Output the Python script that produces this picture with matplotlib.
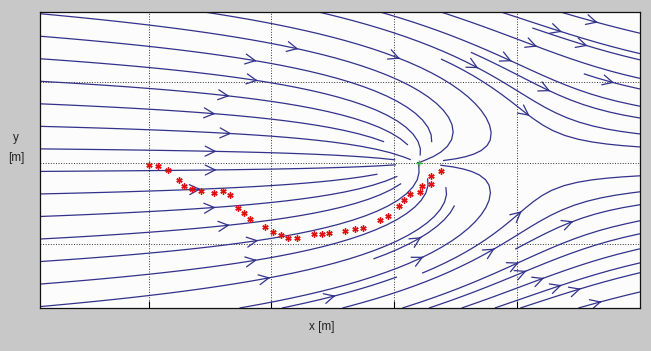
import numpy as np
import matplotlib
matplotlib.use("Agg")
import matplotlib.pyplot as plt

# flow model: uniform stream plus a point sink on the x axis,
# with a mild contraction of the stream towards the axis
U_inf = 1.0          # free stream speed
sink_x = 0.2         # sink location [m]
stag_dist = 1.0      # sink strength expressed as stagnation distance
contraction = 0.022  # convergence rate towards the axis
x_scale = 1.225      # metres per axis unit along x
y_scale = 1.246      # metres per axis unit along y

# measured particle track (red stars)
track_x = [-2.00, -1.92, -1.84, -1.75, -1.71, -1.65, -1.57, -1.47, -1.39, -1.34,
           -1.27, -1.22, -1.17, -1.05, -0.99, -0.92, -0.86, -0.79, -0.65, -0.59,
           -0.53, -0.40, -0.32, -0.25, -0.11, -0.05, 0.04, 0.08, 0.13, 0.21,
           0.23, 0.30, 0.30, 0.38]
track_y = [-0.02, -0.04, -0.09, -0.21, -0.28, -0.32, -0.35, -0.37, -0.34, -0.40,
           -0.55, -0.62, -0.69, -0.79, -0.85, -0.89, -0.93, -0.93, -0.88, -0.88,
           -0.86, -0.84, -0.82, -0.80, -0.70, -0.65, -0.53, -0.46, -0.38, -0.36,
           -0.28, -0.26, -0.16, -0.10]

x_ticks = [-2, -1, 0, 1]
y_ticks = [-1, 0, 1]
x_lim = (-2.885, 2.005)
y_lim = (-1.79, 1.86)

plt.rcParams['font.family'] = ['Liberation Sans', 'DejaVu Sans']

fig = plt.figure(figsize=(6.51, 3.51), dpi=100, facecolor='#c8c8c8')
ax = fig.add_axes([40/651, 1-308/351, 600/651, (308-12.3)/351])
ax.set_facecolor('#fcfcfc')

# velocity field on a regular grid
gx = np.linspace(x_lim[0], x_lim[1], 240)
gy = np.linspace(y_lim[0], y_lim[1], 180)
XX, YY = np.meshgrid(gx, gy)
Xp = (XX - sink_x) * x_scale
Yp = YY * y_scale
r2 = np.maximum(Xp**2 + Yp**2, 1e-4)
k = U_inf * stag_dist
u = (U_inf - k * Xp / r2) / x_scale
v = (-k * Yp / r2 - contraction * Yp) / y_scale

# seeds: inflow edge first, then the loops behind the sink and the other edges
x0, x1 = x_lim[0] + 0.02, x_lim[1] - 0.02
y0, y1 = y_lim[0] + 0.02, y_lim[1] - 0.02
seed_left = np.column_stack([np.full(14, x0), np.linspace(y1, y0, 14)])
seed_top = np.column_stack([np.linspace(-0.55, 1.9, 6), np.full(6, y1)])
seed_bot = np.column_stack([np.linspace(-0.85, 1.55, 6), np.full(6, y0)])
seed_right = np.column_stack([np.full(10, x1), np.linspace(1.64, -1.6, 10)])
seed_loop = np.array([[0.41, 0.72], [0.71, 0.65], [0.41, -0.70], [0.71, -0.64]])
seeds = np.vstack([seed_left, seed_loop, seed_top, seed_bot, seed_right])

ax.streamplot(gx, gy, u, v, density=1.3, start_points=seeds, color='#32328c',
              linewidth=0.9, arrowstyle='->', arrowsize=1.8,
              broken_streamlines=True)

ax.plot(track_x, track_y, linestyle='none', marker=(6, 2, 0), markersize=4.5,
        markeredgewidth=1.0, color='#e01010', zorder=5)
ax.plot([sink_x], [0], linestyle='none', marker='+', markersize=4,
        color='#30c030', zorder=6)

ax.set_xlim(*x_lim)
ax.set_ylim(*y_lim)
ax.set_xticks(x_ticks)
ax.set_yticks(y_ticks)
ax.grid(True, linestyle=':', color='#333333', linewidth=0.7)
ax.tick_params(labelbottom=False, labelleft=False, direction='in',
               length=5, left=False, width=0.8)
for s in ax.spines.values():
    s.set_linewidth(0.9)
    s.set_color('#111111')

fig.text(322/651, 1-327/351, 'x [m]', ha='center', va='center', fontsize=8.5,
         color='#222222')
fig.text(16/651, 1-148/351, 'y\n[m]', ha='center', va='center', fontsize=8.5,
         color='#222222', linespacing=1.9)

fig.savefig('out.png', dpi=100, facecolor=fig.get_facecolor())
